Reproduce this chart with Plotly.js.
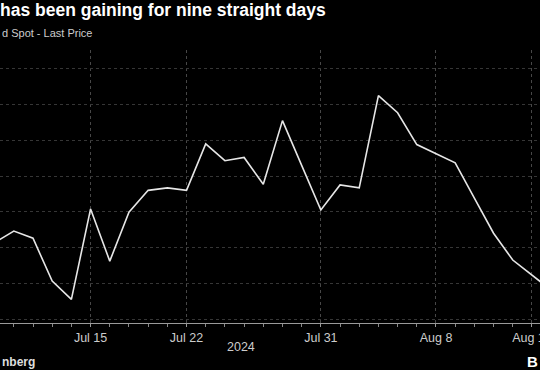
<!DOCTYPE html>
<html>
<head>
<meta charset="utf-8">
<script src="https://cdn.plot.ly/plotly-3.0.1.min.js"></script>
<style>html,body{margin:0;padding:0;background:#000;}#chart{width:540px;height:370px;}</style>
</head>
<body>
<div id="chart"></div>
<script>
// Daily closes, trading days (axis labels not visible)
var dates = ['2024-07-08','2024-07-09','2024-07-10','2024-07-11','2024-07-12',
             '2024-07-15','2024-07-16','2024-07-17','2024-07-18','2024-07-19',
             '2024-07-22','2024-07-23','2024-07-24','2024-07-25','2024-07-26',
             '2024-07-29','2024-07-30','2024-07-31','2024-08-01','2024-08-02',
             '2024-08-05','2024-08-06','2024-08-07','2024-08-08','2024-08-09',
             '2024-08-12','2024-08-13','2024-08-14','2024-08-15','2024-08-16'];
var prices = [18.114,18.146,18.126,18.006,17.955,
              18.208,18.062,18.199,18.260,18.267,
              18.260,18.390,18.343,18.352,18.277,
              18.455,18.330,18.205,18.275,18.267,
              18.525,18.477,18.388,18.363,18.337,
              18.238,18.140,18.065,18.022,17.981];
var tickDates = ['2024-07-15','2024-07-22','2024-07-31','2024-08-08','2024-08-15'];
var tickLabels = ['Jul 15','Jul 22','Jul 31','Aug 8','Aug 15'];
var yearLabel = '2024';
var titleText = 'has been gaining for nine straight days';
var subtitleText = 'd Spot - Last Price';

var trace = {
  x: dates, y: prices, type: 'scatter', mode: 'lines',
  line: {color: '#e6e6e6', width: 1.6},
  hoverinfo: 'skip'
};

var layout = {
  width: 540, height: 370,
  paper_bgcolor: '#000', plot_bgcolor: '#000',
  margin: {l: 0, r: 0, t: 50, b: 47, pad: 0},
  showlegend: false,
  font: {family: 'Liberation Sans, Arial, sans-serif', color: '#cccccc'},
  title: {
    text: '<b>' + titleText + '</b>',
    x: 0, xanchor: 'left', xref: 'container',
    y: 1 - 10/370, yanchor: 'middle', yref: 'container',
    font: {family: 'Liberation Sans, Arial, sans-serif', size: 17.5, color: '#ffffff'}
  },
  xaxis: {
    type: 'date',
    range: ['2024-07-08 06:43', '2024-08-15 10:05'],
    rangebreaks: [{bounds: ['sat', 'mon']}],
    tickmode: 'array', tickvals: tickDates, ticktext: tickLabels,
    tickfont: {size: 12.5, color: '#cccccc'},
    ticklabeloverflow: 'allow',
    ticks: 'outside', ticklen: 3, tickcolor: '#999999', tickwidth: 1,
    showline: true, linecolor: '#9a9a9a', linewidth: 1,
    showgrid: true, gridcolor: '#474747', griddash: 'dot', gridwidth: 1,
    minor: {dtick: 86400000, tick0: '2024-07-01', ticks: 'outside', ticklen: 3, tickcolor: '#888888', showgrid: false},
    zeroline: false, fixedrange: true
  },
  yaxis: {
    range: [17.8889, 18.6526],
    tick0: 18, dtick: 0.1,
    showticklabels: false, ticks: '',
    showgrid: true, gridcolor: '#363636', griddash: 'dot', gridwidth: 1,
    zeroline: false, showline: false, fixedrange: true
  },
  annotations: [
    {text: subtitleText, xref: 'paper', yref: 'paper', x: 0, y: (323-33)/273,
     xanchor: 'left', yanchor: 'middle', showarrow: false,
     font: {size: 11, color: '#cccccc'}},
    {text: yearLabel, xref: 'paper', yref: 'paper', x: 241/540, y: (323-347)/273,
     xanchor: 'center', yanchor: 'middle', showarrow: false,
     font: {size: 12.5, color: '#cccccc'}},
    {text: '<b>nberg</b>', xref: 'paper', yref: 'paper', x: 0, y: (323-362)/273,
     xanchor: 'left', yanchor: 'middle', showarrow: false,
     font: {size: 12, color: '#dddddd'}},
    {text: '<b>B</b>', xref: 'paper', yref: 'paper', x: 1, y: (323-361)/273,
     xanchor: 'right', yanchor: 'middle', showarrow: false, xshift: 0,
     font: {size: 15, color: '#ffffff'}}
  ]
};

Plotly.newPlot('chart', [trace], layout, {displayModeBar: false, staticPlot: true});
</script>
</body>
</html>
